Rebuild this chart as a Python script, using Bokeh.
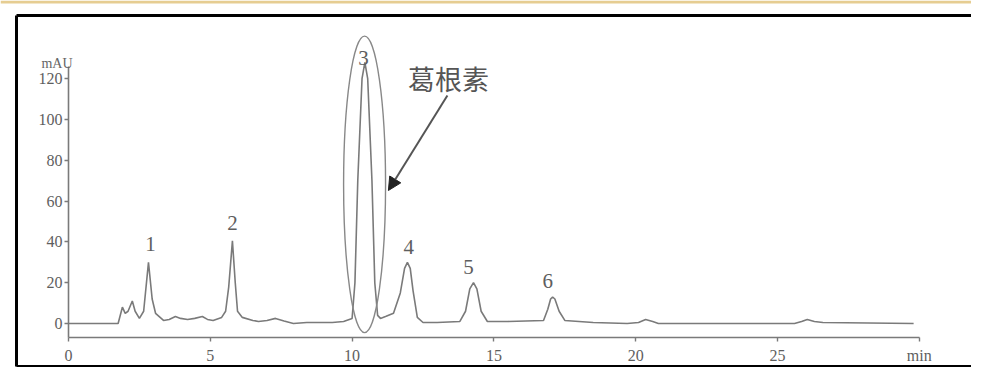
from bokeh.plotting import figure
from bokeh.models import (Range1d, FixedTicker, Label, Arrow, NormalHead,
                          BoxAnnotation, ColumnDataSource, LinearAxis)
from bokeh.core.properties import value
from bokeh.embed import file_html
from bokeh.resources import INLINE

# ---- data ----
time_min = [0, 1.75, 1.9, 2.0, 2.1, 2.25, 2.35, 2.5, 2.65, 2.82, 2.95, 3.07, 3.35, 3.55,
            3.77, 3.95, 4.2, 4.45, 4.72, 4.9, 5.1, 5.4, 5.54, 5.65, 5.78, 5.88, 5.96,
            6.13, 6.5, 6.7, 7.0, 7.3, 7.6, 7.93, 8.4, 8.78, 9.3, 9.7, 10.0, 10.1, 10.2,
            10.35, 10.45, 10.55, 10.7, 10.8, 10.9, 11.0, 11.2, 11.46, 11.7, 11.85, 11.95,
            12.05, 12.15, 12.3, 12.5, 13.0, 13.8, 14.0, 14.15, 14.28, 14.4, 14.55, 14.77,
            15.5, 16.75, 16.9, 17.0, 17.07, 17.15, 17.3, 17.5, 18.5, 19.7, 20.1, 20.35,
            20.6, 20.8, 25.6, 25.85, 26.05, 26.3, 26.6, 29.8]
signal_mau = [0, 0, 8, 5, 6, 11, 6, 2.5, 6, 30, 12, 5, 1.5, 2,
              3.4, 2.5, 2, 2.5, 3.4, 2, 1.5, 3, 6, 18, 40.5, 20, 6,
              3, 1.5, 1, 1.5, 2.5, 1.2, 0, 0.5, 0.5, 0.5, 1, 2.5, 20, 70,
              120, 128, 120, 70, 20, 4, 2.5, 3.5, 5, 15, 27, 30,
              27, 16, 3, 0.5, 0.5, 1, 6, 17, 20, 17, 6, 1,
              1, 1.5, 7, 12, 13, 12, 6, 1.5, 0.5, 0, 0.5, 2,
              1, 0, 0, 1, 2, 1, 0.5, 0]

peak_labels = ["1", "2", "3", "4", "5", "6"]
peak_label_t = [2.89, 5.78, 10.4, 12.0, 14.1, 16.9]
peak_label_y = [39, 49.5, 130, 37.5, 27.5, 21]

x_ticks = [0, 5, 10, 15, 20, 25, 30]
y_ticks = [0, 20, 40, 60, 80, 100, 120]

# highlighted peak (puerarin)
ellipse_t, ellipse_y, ellipse_w, ellipse_h = 10.44, 68.2, 1.48, 145.5
arrow_start = (13.36, 111.8)
arrow_end = (11.28, 65.2)
annot_text = "葛根素"
annot_pos = (13.4, 120)

# ---- layout (pixels of the 971x367 canvas) ----
W, H = 971, 367
X0_PX, PX_PER_MIN = 68.0, 28.36      # where t=0 sits, scale
Y0_PX, PX_PER_MAU = 323.0, 2.04      # where 0 mAU sits, scale


def tx(px):
    return (px - X0_PX) / PX_PER_MIN


def ty(py):
    return (Y0_PX - py) / PX_PER_MAU


GREY = "#7a7a7a"
TXT = "#5e5e5e"
SERIF = "Liberation Serif"

p = figure(width=W, height=H, output_backend="svg", toolbar_location=None,
           x_range=Range1d(tx(0), tx(W)), y_range=Range1d(ty(H), ty(0)),
           x_axis_location=None, y_axis_location=None,
           min_border=0)
p.outline_line_color = None
p.grid.visible = False
p.background_fill_color = "white"
p.border_fill_color = "white"

AXIS_Y = -6.9  # data level of the time axis line

xaxis = LinearAxis(fixed_location=AXIS_Y, bounds=(0, 30),
                   ticker=FixedTicker(ticks=x_ticks),
                   major_label_overrides={30: "min"}, major_label_standoff=5)
yaxis = LinearAxis(fixed_location=0, bounds=(AXIS_Y, 126),
                   ticker=FixedTicker(ticks=y_ticks), major_label_standoff=2)
for ax in (xaxis, yaxis):
    ax.axis_line_color = GREY
    ax.axis_line_width = 1.6
    ax.major_tick_line_color = GREY
    ax.major_tick_line_width = 1.4
    ax.major_tick_in = 0
    ax.major_tick_out = 4
    ax.minor_tick_line_color = None
    ax.major_label_text_font = SERIF
    ax.major_label_text_font_size = "16px"
    ax.major_label_text_color = TXT
p.add_layout(xaxis, "below")
p.add_layout(yaxis, "left")

# black frame of the scanned figure (top, left, bottom edges) drawn as bare axis lines
frame_left, frame_top, frame_bottom = tx(15.5), ty(14.5), ty(365.5)
for side, loc, bnds in (("above", frame_top, (frame_left, tx(W))),
                        ("below", frame_bottom, (frame_left, tx(W))),
                        ("left", frame_left, (frame_bottom, frame_top))):
    fa = LinearAxis(fixed_location=loc, bounds=bnds, ticker=FixedTicker(ticks=[]),
                    axis_line_color="black", axis_line_width=3,
                    major_tick_line_color=None, minor_tick_line_color=None,
                    major_label_text_color=None)
    p.add_layout(fa, side)

# tan strip at the very top of the scan
p.add_layout(BoxAnnotation(top=ty(0), bottom=ty(3), fill_color="#e6cd92",
                           fill_alpha=1, line_color=None))

# trace
src = ColumnDataSource(dict(t=time_min, s=signal_mau))
p.line("t", "s", source=src, line_color=GREY, line_width=1.6)

# peak numbers
p.text(x=peak_label_t, y=peak_label_y, text=peak_labels, text_align="center",
       text_baseline="middle", text_font=value(SERIF), text_font_size="21px",
       text_color=TXT)

# ellipse around peak 3
p.ellipse(x=[ellipse_t], y=[ellipse_y], width=[ellipse_w], height=[ellipse_h],
          fill_color=None, line_color="#888888", line_width=1.4)

# arrow and annotation
p.add_layout(Arrow(x_start=arrow_start[0], y_start=arrow_start[1],
                   x_end=arrow_end[0], y_end=arrow_end[1],
                   line_color="#555555", line_width=2,
                   end=NormalHead(size=13, fill_color="#222222", line_color="#222222")))
p.add_layout(Label(x=annot_pos[0], y=annot_pos[1], text=annot_text,
                   text_align="center", text_baseline="middle",
                   text_font="Noto Sans CJK SC", text_font_size="27px",
                   text_color="#555555"))

# y-axis unit
p.add_layout(Label(x=0, y=127.5, text="mAU", x_offset=4, text_align="right",
                   text_baseline="middle", text_font=SERIF,
                   text_font_size="14px", text_color="#666666"))

open("out.html", "w").write(file_html(p, INLINE))
